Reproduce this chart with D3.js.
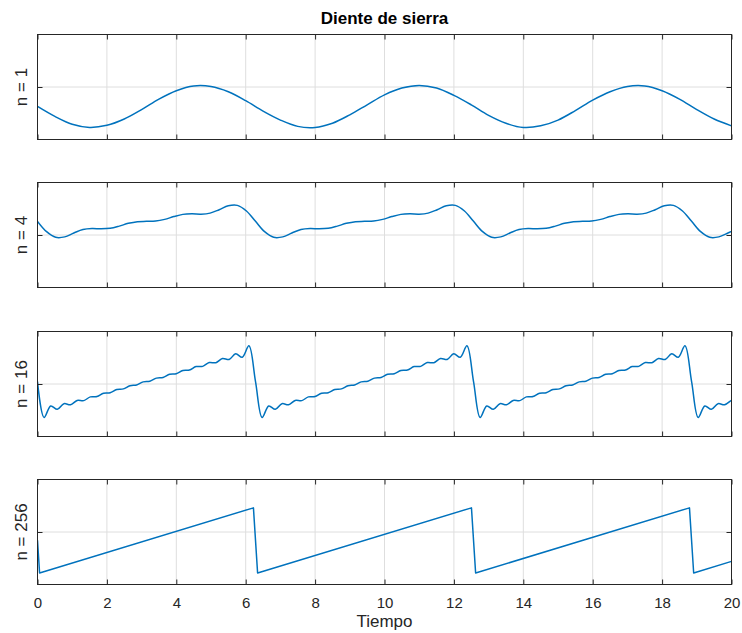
<!DOCTYPE html>
<html><head><meta charset="utf-8">
<script src="https://cdn.jsdelivr.net/npm/d3@7"></script>
<style>
body{margin:0;background:#fff}
svg{display:block}
text{font-family:"Liberation Sans",Arial,Helvetica,sans-serif;fill:#262626}
</style>
</head><body><svg id="c" width="742" height="633"></svg>
<script>
// ---- data ----
const chartTitle = "Diente de sierra";
const xLabel = "Tiempo";
const panelLabels = ["n = 1", "n = 4", "n = 16", "n = 256"];
const xTicks = [0, 2, 4, 6, 8, 10, 12, 14, 16, 18, 20];
const yTicks = [0];

const timeN1 = [0,0.5,1,1.5,2,2.5,3,3.5,4,4.5,5,5.5,6,6.5,7,7.5,8,8.5,9,9.5,10,10.5,11,11.5,12,12.5,13,13.5,14,14.5,15,15.5,16,16.5,17,17.5,18,18.5,19,19.5,20];
const valuesN1 = [-0.37,-0.56,-0.71,-0.77,-0.73,-0.61,-0.43,-0.23,-0.07,0.02,0.01,-0.09,-0.26,-0.46,-0.63,-0.75,-0.77,-0.69,-0.53,-0.34,-0.15,-0.02,0.03,-0.02,-0.16,-0.34,-0.54,-0.69,-0.77,-0.74,-0.63,-0.45,-0.25,-0.09,0.01,0.02,-0.07,-0.23,-0.43,-0.61,-0.74];

const timeN4 = [0,0.262,0.524,0.785,1.047,1.309,1.571,1.833,2.094,2.356,2.618,2.880,3.142,3.403,3.665,3.927,4.189,4.451,4.712,4.974,5.236,5.498,5.760,6.021,
6.283,6.545,6.807,7.069,7.330,7.592,7.854,8.116,8.378,8.639,8.901,9.163,9.425,9.687,9.948,10.210,10.472,10.734,10.996,11.257,11.519,11.781,12.043,12.305,
12.566,12.828,13.090,13.352,13.614,13.875,14.137,14.399,14.661,14.923,15.184,15.446,15.708,15.970,16.232,16.493,16.755,17.017,17.279,17.541,17.802,18.064,18.326,18.588,
18.850,19.111,19.373,19.635,19.897,20];
const valuesN4 = [0.26,0.063,-0.044,-0.036,0.038,0.103,0.123,0.117,0.127,0.169,0.222,0.254,0.26,0.266,0.298,0.351,0.393,0.403,0.397,0.417,0.482,0.556,0.564,0.457,
0.26,0.063,-0.044,-0.036,0.038,0.103,0.123,0.117,0.127,0.169,0.222,0.254,0.26,0.266,0.298,0.351,0.393,0.403,0.397,0.417,0.482,0.556,0.564,0.457,
0.26,0.063,-0.044,-0.036,0.038,0.103,0.123,0.117,0.127,0.169,0.222,0.254,0.26,0.266,0.298,0.351,0.393,0.403,0.397,0.417,0.482,0.556,0.564,0.457,
0.26,0.063,-0.044,-0.036,0.038,0.068];

const timeN16 = [0,0.190,0.381,0.571,0.762,0.952,1.142,1.333,1.523,1.714,1.904,2.094,2.285,2.475,2.666,2.856,3.046,3.237,3.427,3.618,3.808,3.998,4.189,4.379,4.570,4.760,4.950,5.141,5.331,5.522,5.712,5.902,6.093,
6.283,6.473,6.664,6.854,7.045,7.235,7.425,7.616,7.806,7.997,8.187,8.377,8.568,8.758,8.949,9.139,9.329,9.520,9.710,9.901,10.091,10.281,10.472,10.662,10.853,11.043,11.233,11.424,11.614,11.805,11.995,12.185,12.376,
12.566,12.756,12.947,13.137,13.328,13.518,13.708,13.899,14.089,14.280,14.470,14.660,14.851,15.041,15.232,15.422,15.612,15.803,15.993,16.184,16.374,16.564,16.755,16.945,17.136,17.326,17.516,17.707,17.897,18.088,18.278,18.468,18.659,
18.850,19.040,19.231,19.421,19.612,19.802,19.992,20];
const valuesN16 = [0.046,-0.636,-0.418,-0.483,-0.375,-0.395,-0.313,-0.317,-0.245,-0.240,-0.175,-0.166,-0.104,-0.093,-0.032,-0.020,0.040,0.053,0.112,0.124,0.185,0.196,0.258,0.267,0.332,0.336,0.409,0.405,0.487,0.467,0.575,0.509,0.728,
0.046,-0.636,-0.418,-0.483,-0.375,-0.395,-0.313,-0.317,-0.245,-0.240,-0.175,-0.166,-0.104,-0.093,-0.032,-0.020,0.040,0.053,0.112,0.124,0.185,0.196,0.258,0.267,0.332,0.336,0.409,0.405,0.487,0.467,0.575,0.509,0.728,
0.046,-0.636,-0.418,-0.483,-0.375,-0.395,-0.313,-0.317,-0.245,-0.240,-0.175,-0.166,-0.104,-0.093,-0.032,-0.020,0.040,0.053,0.112,0.124,0.185,0.196,0.258,0.267,0.332,0.336,0.409,0.405,0.487,0.467,0.575,0.509,0.728,
0.046,-0.636,-0.418,-0.483,-0.375,-0.395,-0.313,-0.313];

const timeN256 = [0,0.06,6.223,6.343,12.506,12.626,18.789,18.91,20];
const valuesN256 = [-0.16,-0.78,0.46,-0.78,0.46,-0.78,0.46,-0.78,-0.56];

const smooth = d3.curveCatmullRom.alpha(0.5);
const panels = [
  {label: panelLabels[0], t: timeN1, v: valuesN1, curve: smooth},
  {label: panelLabels[1], t: timeN4, v: valuesN4, curve: smooth},
  {label: panelLabels[2], t: timeN16, v: valuesN16, curve: smooth},
  {label: panelLabels[3], t: timeN256, v: valuesN256, curve: d3.curveLinear}
];

// ---- layout ----
const svg = d3.select("#c");
const left = 37.5, right = 731.5;
const top0 = 34, panelH = 105, step = 148.3;
const axisColor = "#262626", gridColor = "#dedede", lineColor = "#0072BD";
const tickLen = 5;

const x = d3.scaleLinear().domain([0, 20]).range([left, right]);

panels.forEach((p, i) => {
  const top = Math.round(top0 + i * step) + 0.5;
  const bottom = top + panelH;
  const y = d3.scaleLinear().domain([-1, 1]).range([bottom, top]);
  const g = svg.append("g");

  // grid
  g.append("g").selectAll("line").data(xTicks).join("line")
    .attr("x1", d => x(d)).attr("x2", d => x(d)).attr("y1", top).attr("y2", bottom)
    .attr("stroke", gridColor).attr("stroke-width", 1);
  g.append("g").selectAll("line").data(yTicks).join("line")
    .attr("x1", left).attr("x2", right).attr("y1", d => y(d)).attr("y2", d => y(d))
    .attr("stroke", gridColor).attr("stroke-width", 1);

  // clip
  const cid = "clip" + i;
  svg.append("clipPath").attr("id", cid).append("rect")
    .attr("x", left).attr("y", top).attr("width", right - left).attr("height", panelH);

  const data = p.t.map((t, k) => [t, p.v[k]]);
  g.append("path").datum(data)
    .attr("clip-path", `url(#${cid})`)
    .attr("fill", "none").attr("stroke", lineColor).attr("stroke-width", 1.5)
    .attr("stroke-linejoin", "round")
    .attr("d", d3.line().x(d => x(d[0])).y(d => y(d[1])).curve(p.curve));

  // axes (ticks inward)
  const showLabels = i === panels.length - 1;
  const bAxis = d3.axisBottom(x).tickValues(xTicks).tickSize(-tickLen).tickPadding(12.5)
    .tickFormat(showLabels ? d3.format("d") : () => "");
  const tAxis = d3.axisTop(x).tickValues(xTicks).tickSize(-tickLen).tickFormat(() => "");
  const lAxis = d3.axisLeft(y).tickValues(yTicks).tickSize(-tickLen).tickFormat(() => "");
  const rAxis = d3.axisRight(y).tickValues(yTicks).tickSize(-tickLen).tickFormat(() => "");

  const styleAxis = sel => {
    sel.select(".domain").remove();
    sel.selectAll(".tick line").attr("stroke", axisColor);
    sel.selectAll(".tick text").attr("fill", axisColor).style("font-size", "15px")
      .style("font-family", '"Liberation Sans",Arial,Helvetica,sans-serif');
  };
  g.append("g").attr("transform", `translate(0,${bottom})`).call(bAxis).call(styleAxis);
  g.append("g").attr("transform", `translate(0,${top})`).call(tAxis).call(styleAxis);
  g.append("g").attr("transform", `translate(${left},0)`).call(lAxis).call(styleAxis);
  g.append("g").attr("transform", `translate(${right},0)`).call(rAxis).call(styleAxis);

  // box
  g.append("rect").attr("x", left).attr("y", top).attr("width", right - left).attr("height", panelH)
    .attr("fill", "none").attr("stroke", axisColor).attr("stroke-width", 1);

  // y label
  g.append("text")
    .attr("transform", `translate(27,${(top + bottom) / 2}) rotate(-90)`)
    .attr("text-anchor", "middle")
    .style("font-size", "17px")
    .text(p.label);

  if (i === 0) {
    svg.append("text").attr("x", (left + right) / 2).attr("y", 23.5)
      .attr("text-anchor", "middle").style("font-size", "17px").style("font-weight", "bold")
      .style("fill", "#000")
      .text(chartTitle);
  }
  if (showLabels) {
    svg.append("text").attr("x", (left + right) / 2).attr("y", 627)
      .attr("text-anchor", "middle").style("font-size", "17px")
      .text(xLabel);
  }
});
</script></body></html>
